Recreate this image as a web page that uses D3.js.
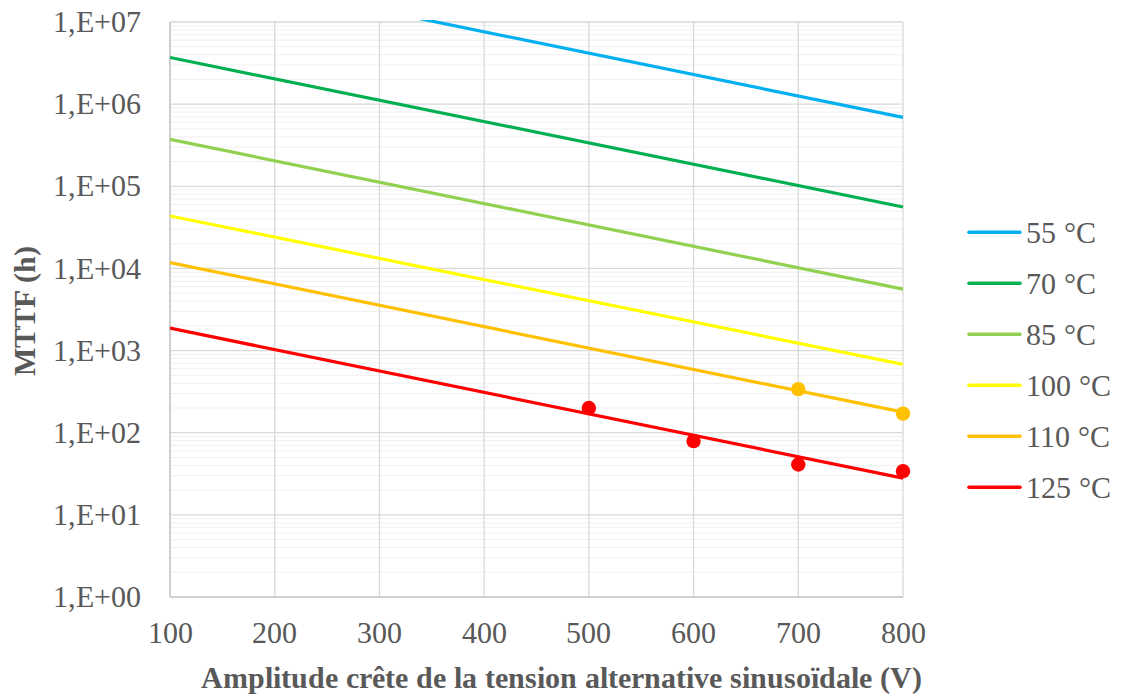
<!DOCTYPE html>
<html>
<head>
<meta charset="utf-8">
<script src="https://cdn.jsdelivr.net/npm/d3@7"></script>
<style>
  @font-face { font-family: "ChartSerif"; src: local("Liberation Serif"), local("LiberationSerif"), local("Liberation Serif Regular"), local("LiberationSerif-Regular"); font-weight: 400; }
  @font-face { font-family: "ChartSerif"; src: local("Liberation Serif Bold"), local("LiberationSerif-Bold"); font-weight: 700; }
  html, body { margin: 0; padding: 0; background: #fff; }
</style>
</head>
<body>
<svg id="fig" width="1124" height="695"></svg>
<script>
// ---- data ----
const seriesNames = ["55 °C", "70 °C", "85 °C", "100 °C", "110 °C", "125 °C"];
const seriesColors = ["#00B0F0", "#00B050", "#92D050", "#FFFF00", "#FFC000", "#FF0000"];
// fitted lines: MTTF (h) at 100 V and at 800 V
const fitVoltages = [100, 800];
const fit55 = [4.6e7, 6.9e5];
const fit70 = [3.7e6, 5.6e4];
const fit85 = [3.72e5, 5.6e3];
const fit100 = [4.35e4, 680];
const fit110 = [1.18e4, 178];
const fit125 = [1875, 28];
// measured points
const meas110V = [700, 800];
const meas110 = [339, 171];
const meas125V = [500, 600, 700, 800];
const meas125 = [200, 79, 41, 34];
// axes
const xTicks = [100, 200, 300, 400, 500, 600, 700, 800];
const yTicks = [1, 10, 100, 1000, 1e4, 1e5, 1e6, 1e7];
const yTickLabels = ["1,E+00", "1,E+01", "1,E+02", "1,E+03", "1,E+04", "1,E+05", "1,E+06", "1,E+07"];
const xTitle = "Amplitude crête de la tension alternative sinusoïdale (V)";
const yTitle = "MTTF (h)";

const fits = [fit55, fit70, fit85, fit100, fit110, fit125];
const FONT = '"ChartSerif", "Liberation Serif", "Times New Roman", serif';

// ---- layout ----
const svg = d3.select("#fig");
const L = 170, R = 903, T = 22, B = 597;
const x = d3.scaleLinear().domain([100, 800]).range([L, R]);
const y = d3.scaleLog().domain([1, 1e7]).range([B, T]);

function txt(xx, yy, s, opts = {}) {
  const t = svg.append("text")
    .attr("x", xx).attr("y", yy)
    .attr("font-size", opts.size || 30)
    .style("font-family", FONT)
    .attr("fill", "#595959")
    .text(s);
  if (opts.anchor) t.attr("text-anchor", opts.anchor);
  if (opts.dy) t.attr("dy", opts.dy);
  if (opts.bold) t.attr("font-weight", "bold");
  if (opts.transform) t.attr("transform", opts.transform);
  return t;
}

// minor grid
const minor = [];
for (let e = 0; e < 7; e++) for (let k = 2; k <= 9; k++) minor.push(k * Math.pow(10, e));
svg.append("g").selectAll("line").data(minor).join("line")
  .attr("x1", L).attr("x2", R)
  .attr("y1", d => y(d)).attr("y2", d => y(d))
  .attr("stroke", "#F0F0F0").attr("stroke-width", 1);

// major horizontal grid
svg.append("g").selectAll("line").data(yTicks.slice(1)).join("line")
  .attr("x1", L).attr("x2", R)
  .attr("y1", d => y(d)).attr("y2", d => y(d))
  .attr("stroke", "#D9D9D9").attr("stroke-width", 1.3);

// vertical grid
svg.append("g").selectAll("line").data(xTicks.slice(1)).join("line")
  .attr("x1", d => x(d)).attr("x2", d => x(d))
  .attr("y1", T).attr("y2", B)
  .attr("stroke", "#D9D9D9").attr("stroke-width", 1.3);

// axis lines
svg.append("line").attr("x1", L).attr("x2", L).attr("y1", T).attr("y2", B)
  .attr("stroke", "#BFBFBF").attr("stroke-width", 1.5);
svg.append("line").attr("x1", L).attr("x2", R).attr("y1", B).attr("y2", B)
  .attr("stroke", "#BFBFBF").attr("stroke-width", 1.5);

// tick labels
yTicks.forEach((d, i) => txt(141, y(d), yTickLabels[i], { anchor: "end", dy: "0.34em" }));
xTicks.forEach(d => txt(x(d), 643, String(d), { anchor: "middle" }));

// titles
txt(561, 688, xTitle, { anchor: "middle", bold: true });
txt(0, 0, yTitle, { anchor: "middle", bold: true, transform: "translate(35,311) rotate(-90)" });

// clip
svg.append("clipPath").attr("id", "plotclip").append("rect")
  .attr("x", L).attr("y", T - 2).attr("width", R - L + 2).attr("height", B - T + 4);

const line = d3.line().x(d => x(d[0])).y(d => y(d[1]));
const gl = svg.append("g").attr("clip-path", "url(#plotclip)");
fits.forEach((f, i) => {
  gl.append("path")
    .attr("d", line(fitVoltages.map((v, j) => [v, f[j]])))
    .attr("fill", "none")
    .attr("stroke", seriesColors[i])
    .attr("stroke-width", 3.2);
});

// markers
svg.append("g").selectAll("circle").data(meas110V.map((v, j) => [v, meas110[j]])).join("circle")
  .attr("cx", d => x(d[0])).attr("cy", d => y(d[1])).attr("r", 7.2)
  .attr("fill", seriesColors[4]);
svg.append("g").selectAll("circle").data(meas125V.map((v, j) => [v, meas125[j]])).join("circle")
  .attr("cx", d => x(d[0])).attr("cy", d => y(d[1])).attr("r", 7.2)
  .attr("fill", seriesColors[5]);

// legend
seriesNames.forEach((n, i) => {
  const ly = 232.3 + i * 51;
  svg.append("line").attr("x1", 969).attr("x2", 1020).attr("y1", ly).attr("y2", ly)
    .attr("stroke", seriesColors[i]).attr("stroke-width", 3.5).attr("stroke-linecap", "round");
  txt(1026, ly, n, { dy: "0.34em" });
});
</script>
</body>
</html>
